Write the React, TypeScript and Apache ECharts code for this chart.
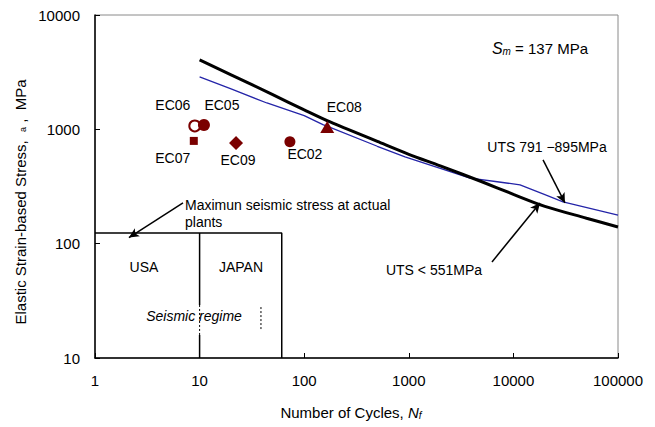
import React, { useEffect, useRef } from "react";
import * as echarts from "echarts";

// Fatigue curves (N cycles, stress MPa)
const blackN = [10, 20, 50, 100, 177, 500, 1000, 2000, 5000, 10000, 20000, 50000, 100000];
const blackS = [4050, 3000, 2010, 1480, 1160, 784, 605, 479, 348, 270, 212, 167, 140];
const blueN = [10, 20, 44, 100, 151, 177, 500, 920, 2000, 3846, 7000, 11570, 20000, 29800, 100000];
const blueS = [2875, 2255, 1700, 1320, 1100, 1040, 711, 574, 456, 375, 348, 327, 268, 232, 178];

// Test points
const pointNames = ["EC06", "EC05", "EC07", "EC09", "EC02", "EC08"];
const pointN = [9.0, 11, 8.8, 22.3, 73, 166];
const pointS = [1070, 1090, 792, 760, 780, 1050];

// Seismic regime box
const regimeTopS = 124;
const regimeEndN = 61;
const usaJapanN = 10;
const dotA = [29.1, 15.9];
const dotBN = 38.6;
const dotB = [27.9, 17.6];

// Annotation arrows [fromN, fromS, toN, toS]
const arrowMax = [6.94, 227, 2.11, 113];
const arrow791 = [19200, 540, 31100, 227];
const arrow551 = [6240, 69.2, 17960, 227];

const xTicks = [1, 10, 100, 1000, 10000, 100000];
const yTicks = [10, 100, 1000, 10000];

const RED = "#7a0000";
const FONT = "'Liberation Sans', Arial, sans-serif";

const symbols = ["circle", "circle", "rect", "diamond", "circle", "triangle"];
const sizes: any[] = [11, 12, 8, 14, 11, [14, 12]];
const labelOffsets = [
  [-22, -21],
  [18, -20],
  [-21, 17],
  [2, 17],
  [15, 12],
  [17, -20],
];

export default function App() {
  const ref = useRef<HTMLDivElement>(null);
  useEffect(() => {
    if (!ref.current) return;
    const chart = echarts.init(ref.current, undefined, { renderer: "svg" });
    const pair = (a: number[], b: number[]) => a.map((v, i) => [v, b[i]]);
    const arrowData = (a: number[]) => [
      { coord: [a[0], a[1]], symbol: "none" },
      { coord: [a[2], a[3]], symbol: "arrow" },
    ];
    const blackLine = { color: "#000", width: 1.5 };
    const option: any = {
      animation: false,
      backgroundColor: "#fff",
      grid: {
        left: 95,
        top: 15,
        right: 37,
        bottom: 69,
        show: true,
        borderColor: "#8a8a8a",
        borderWidth: 1,
      },
      xAxis: {
        type: "log",
        logBase: 10,
        min: xTicks[0],
        max: xTicks[xTicks.length - 1],
        axisLine: { lineStyle: { color: "#000", width: 1.5 } },
        axisTick: { inside: true, length: 5, lineStyle: { color: "#000" } },
        minorTick: { show: false },
        splitLine: { show: false },
        axisLabel: {
          color: "#000",
          fontSize: 15,
          fontFamily: FONT,
          margin: 15,
          formatter: (v: number) => String(Math.round(v)),
        },
      },
      yAxis: {
        type: "log",
        logBase: 10,
        min: yTicks[0],
        max: yTicks[yTicks.length - 1],
        axisLine: { show: true, lineStyle: { color: "#000", width: 1.5 } },
        axisTick: { show: true, inside: true, length: 5, lineStyle: { color: "#000" } },
        splitLine: { show: false },
        axisLabel: {
          color: "#000",
          fontSize: 15,
          fontFamily: FONT,
          margin: 15,
          formatter: (v: number) => String(Math.round(v)),
        },
      },
      series: [
        {
          type: "line",
          data: pair(blueN, blueS),
          showSymbol: false,
          lineStyle: { color: "#2424a8", width: 1.3 },
          z: 3,
        },
        {
          type: "line",
          data: pair(blackN, blackS),
          showSymbol: false,
          smooth: 0.3,
          lineStyle: { color: "#000", width: 3 },
          z: 4,
        },
        {
          type: "line",
          data: [
            [xTicks[0], regimeTopS],
            [regimeEndN, regimeTopS],
            [regimeEndN, yTicks[0]],
          ],
          showSymbol: false,
          lineStyle: blackLine,
          markLine: {
            silent: true,
            symbolSize: [7, 10],
            lineStyle: { color: "#000", width: 1.5, type: "solid" },
            label: { show: false },
            data: [arrowData(arrowMax), arrowData(arrow791), arrowData(arrow551)],
          },
        },
        {
          type: "line",
          data: [
            [usaJapanN, regimeTopS],
            [usaJapanN, dotA[0]],
          ],
          showSymbol: false,
          lineStyle: blackLine,
        },
        {
          type: "line",
          data: [
            [usaJapanN, dotA[1]],
            [usaJapanN, yTicks[0]],
          ],
          showSymbol: false,
          lineStyle: blackLine,
        },
        {
          type: "line",
          data: [
            [usaJapanN, dotA[0]],
            [usaJapanN, dotA[1]],
          ],
          showSymbol: false,
          lineStyle: { color: "#000", width: 1, type: [2, 2] },
        },
        {
          type: "line",
          data: [
            [dotBN, dotB[0]],
            [dotBN, dotB[1]],
          ],
          showSymbol: false,
          lineStyle: { color: "#000", width: 1, type: [2, 2] },
        },
        {
          type: "scatter",
          z: 5,
          data: pointNames.map((name, i) => ({
            name,
            value: [pointN[i], pointS[i]],
            symbol: symbols[i],
            symbolSize: sizes[i],
            itemStyle:
              i === 0
                ? { color: "#fff", borderColor: RED, borderWidth: 2, opacity: 1 }
                : { color: RED, opacity: 1 },
            label: {
              show: true,
              formatter: name,
              position: "inside",
              offset: labelOffsets[i],
              color: "#000",
              fontSize: 14,
              fontFamily: FONT,
            },
          })),
        },
      ],
      graphic: [
        {
          type: "text",
          x: 20,
          y: 202,
          rotation: Math.PI / 2,
          style: {
            text: "{t|Elastic Strain-based Stress,  }{s|a}{t| ,  MPa}",
            align: "center",
            verticalAlign: "middle",
            rich: {
              t: { fontSize: 15, fontFamily: FONT, fill: "#000" },
              s: { fontSize: 9, fontFamily: FONT, fill: "#000", padding: [6, 0, 0, 0] },
            },
          },
        },
        {
          type: "text",
          x: 351,
          y: 412,
          style: {
            text: "{t|Number of Cycles, }{i|N}{s|f}",
            align: "center",
            verticalAlign: "middle",
            rich: {
              t: { fontSize: 15, fontFamily: FONT, fill: "#000" },
              i: { fontSize: 15, fontFamily: FONT, fontStyle: "italic", fill: "#000" },
              s: { fontSize: 10, fontFamily: FONT, fontStyle: "italic", fill: "#000", padding: [6, 0, 0, 0] },
            },
          },
        },
        {
          type: "text",
          x: 540,
          y: 48,
          style: {
            text: "{i|S}{s|m}{t| = 137 MPa}",
            align: "center",
            verticalAlign: "middle",
            rich: {
              t: { fontSize: 15, fontFamily: FONT, fill: "#000" },
              i: { fontSize: 16, fontFamily: FONT, fontStyle: "italic", fill: "#000" },
              s: { fontSize: 10, fontFamily: FONT, fontStyle: "italic", fill: "#000", padding: [6, 0, 0, 0] },
            },
          },
        },
        {
          type: "text",
          x: 547,
          y: 147,
          style: { text: "UTS 791 \u2212895MPa", align: "center", verticalAlign: "middle", fontSize: 14, fontFamily: FONT, fill: "#000" },
        },
        {
          type: "text",
          x: 434,
          y: 270,
          style: { text: "UTS < 551MPa", align: "center", verticalAlign: "middle", fontSize: 14, fontFamily: FONT, fill: "#000" },
        },
        {
          type: "text",
          x: 185,
          y: 205,
          style: { text: "Maximun seismic stress at actual", align: "left", verticalAlign: "middle", fontSize: 14, fontFamily: FONT, fill: "#000" },
        },
        {
          type: "text",
          x: 185,
          y: 222,
          style: { text: "plants", align: "left", verticalAlign: "middle", fontSize: 14, fontFamily: FONT, fill: "#000" },
        },
        {
          type: "text",
          x: 144,
          y: 267,
          style: { text: "USA", align: "center", verticalAlign: "middle", fontSize: 14, fontFamily: FONT, fill: "#000" },
        },
        {
          type: "text",
          x: 241,
          y: 267,
          style: { text: "JAPAN", align: "center", verticalAlign: "middle", fontSize: 14, fontFamily: FONT, fill: "#000" },
        },
        {
          type: "text",
          x: 194,
          y: 316,
          style: { text: "Seismic regime", align: "center", verticalAlign: "middle", fontSize: 14, fontStyle: "italic", fontFamily: FONT, fill: "#000" },
        },
      ],
    };
    chart.setOption(option);
    return () => chart.dispose();
  }, []);
  return (
    <div
      ref={ref}
      style={{ position: "fixed", left: 0, top: 0, width: 655, height: 427, background: "#fff" }}
    />
  );
}
